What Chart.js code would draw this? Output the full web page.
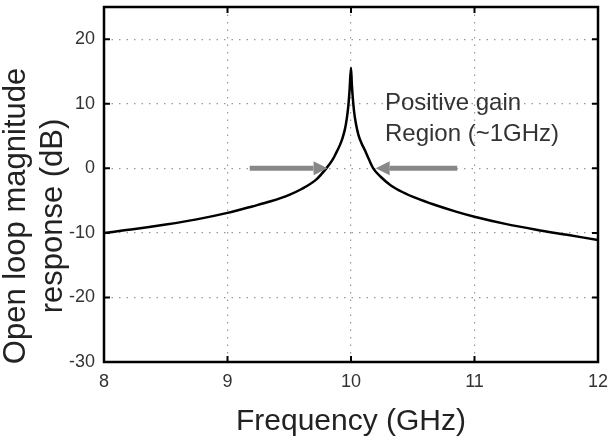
<!DOCTYPE html>
<html>
<head>
<meta charset="utf-8">
<script src="https://cdn.jsdelivr.net/npm/chart.js@4.4.0/dist/chart.umd.min.js"></script>
<style>
  html, body { margin: 0; padding: 0; background: #fff; }
  #wrap { width: 611px; height: 441px; }
</style>
</head>
<body>
<div id="wrap"><canvas id="chart" width="611" height="441"></canvas></div>
<script>
  // values
  const freqGHz = [8.0, 8.25, 8.5, 8.75, 9.0, 9.2, 9.35, 9.5, 9.6, 9.72, 9.8, 9.85, 9.88, 9.91, 9.93, 9.95, 9.965, 9.978, 9.988, 10.0,
    10.007, 10.015, 10.025, 10.04, 10.06, 10.085, 10.113, 10.145, 10.18, 10.24, 10.32, 10.42, 10.54, 10.67, 10.85, 11.0, 11.25, 11.5, 11.75, 12.0];
  const magDb = [-10.0, -9.4, -8.7, -7.9, -6.9, -5.9, -5.1, -4.1, -3.2, -1.7, 0.0, 1.3, 2.4, 3.6, 4.6, 6.0, 7.6, 9.6, 12.0, 15.6,
    13.0, 10.8, 8.8, 6.9, 5.2, 3.9, 2.8, 1.4, 0.0, -1.3, -2.6, -3.7, -4.7, -5.6, -6.7, -7.5, -8.6, -9.5, -10.3, -11.1];
  const xTicks = [8, 9, 10, 11, 12];
  const yTicks = [-30, -20, -10, 0, 10, 20];
  const arrowLeftGHz = [9.18, 9.81];   // tail, tip
  const arrowRightGHz = [10.86, 10.2]; // tail, tip
  const arrowLevelDb = 0;
  const noteLines = ["Positive gain", "Region (~1GHz)"];
  const yTitleLines = ["Open loop magnitude", "response (dB)"];
  const xTitle = "Frequency (GHz)";

  const FONT = "'Liberation Sans', Arial, sans-serif";

  function drawArrow(ctx, x0, x1, y) {
    const dir = Math.sign(x1 - x0);
    const head = 14;
    ctx.save();
    ctx.strokeStyle = "#888";
    ctx.fillStyle = "#888";
    ctx.lineWidth = 5;
    ctx.beginPath();
    ctx.moveTo(x0, y);
    ctx.lineTo(x1 - dir * head, y);
    ctx.stroke();
    ctx.beginPath();
    ctx.moveTo(x1, y);
    ctx.lineTo(x1 - dir * head, y - 7);
    ctx.lineTo(x1 - dir * head, y + 7);
    ctx.closePath();
    ctx.fill();
    ctx.restore();
  }

  const framePlugin = {
    id: "frame",
    afterDraw(chart) {
      const { ctx, chartArea: a, scales: { x, y } } = chart;
      ctx.save();
      // inward tick marks
      ctx.strokeStyle = "#000";
      ctx.lineWidth = 2;
      ctx.beginPath();
      xTicks.forEach((v) => {
        const px = x.getPixelForValue(v);
        ctx.moveTo(px, a.bottom); ctx.lineTo(px, a.bottom - 6);
        ctx.moveTo(px, a.top); ctx.lineTo(px, a.top + 6);
      });
      yTicks.forEach((v) => {
        const py = y.getPixelForValue(v);
        ctx.moveTo(a.left, py); ctx.lineTo(a.left + 6, py);
        ctx.moveTo(a.right, py); ctx.lineTo(a.right - 6, py);
      });
      ctx.stroke();
      ctx.lineWidth = 2.5;
      ctx.strokeRect(a.left, a.top, a.right - a.left, a.bottom - a.top);

      // arrows
      const yArrow = y.getPixelForValue(arrowLevelDb);
      drawArrow(ctx, x.getPixelForValue(arrowLeftGHz[0]), x.getPixelForValue(arrowLeftGHz[1]), yArrow);
      drawArrow(ctx, x.getPixelForValue(arrowRightGHz[0]), x.getPixelForValue(arrowRightGHz[1]), yArrow);

      // note
      ctx.fillStyle = "#333";
      ctx.font = "24px " + FONT;
      ctx.textAlign = "left";
      ctx.textBaseline = "alphabetic";
      noteLines.forEach((t, i) => ctx.fillText(t, 385, 110 + i * 31));

      // y title
      ctx.fillStyle = "#222";
      ctx.font = "31px " + FONT;
      ctx.textAlign = "center";
      ctx.translate(0, 216);
      ctx.rotate(-Math.PI / 2);
      yTitleLines.forEach((t, i) => ctx.fillText(t, 0, 25 + i * 37));
      ctx.restore();
    },
  };

  new Chart(document.getElementById("chart"), {
    type: "line",
    data: {
      datasets: [{
        data: freqGHz.map((f, i) => ({ x: f, y: magDb[i] })),
        borderColor: "#000",
        borderWidth: 2.5,
        pointRadius: 0,
        cubicInterpolationMode: "monotone",
        fill: false,
      }],
    },
    options: {
      responsive: false,
      animation: false,
      layout: { padding: { left: 0, top: 7, right: 13, bottom: 0 } },
      plugins: { legend: { display: false }, tooltip: { enabled: false } },
      scales: {
        x: {
          type: "linear",
          min: 8,
          max: 12,
          afterBuildTicks: (s) => { s.ticks = xTicks.map((v) => ({ value: v })); },
          afterFit: (s) => { s.height = 79; s.paddingLeft = 0; s.paddingRight = 0; },
          grid: { color: "#999", lineWidth: 1.2, drawTicks: false },
          border: { display: false, dash: [1.5, 6] },
          ticks: { padding: 9, color: "#333", font: { family: FONT, size: 18 } },
          title: { display: true, text: xTitle, color: "#222", padding: { top: 0, bottom: 1 }, font: { family: FONT, size: 30 } },
        },
        y: {
          min: -30,
          max: 25,
          afterBuildTicks: (s) => { s.ticks = yTicks.map((v) => ({ value: v })); },
          afterFit: (s) => { s.width = 104; s.paddingTop = 0; s.paddingBottom = 0; },
          grid: { color: "#999", lineWidth: 1.2, drawTicks: false },
          border: { display: false, dash: [1.5, 6] },
          ticks: { padding: 9, color: "#333", font: { family: FONT, size: 18 } },
        },
      },
    },
    plugins: [framePlugin],
  });
</script>
</body>
</html>
